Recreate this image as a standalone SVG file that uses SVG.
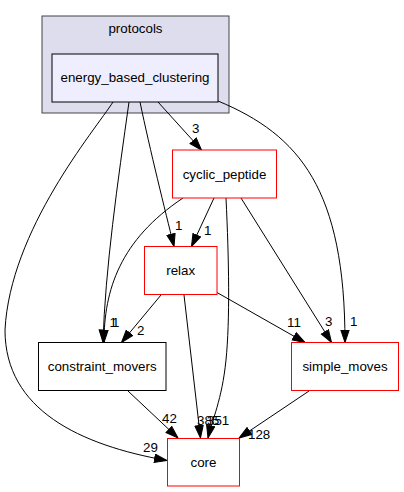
<svg xmlns="http://www.w3.org/2000/svg" width="404" height="492" viewBox="0 0 404 492">
<style>
text{font-family:"Liberation Sans",Arial,Helvetica,sans-serif;font-size:13.33px;fill:#000}
.c{text-anchor:middle}
.e{fill:none;stroke:#000;stroke-width:1;marker-end:url(#ah)}
.red{fill:#fff;stroke:#ff0000;stroke-width:1}
.blk{fill:#fff;stroke:#000;stroke-width:1}
</style>
<defs>
<marker id="ah" markerUnits="userSpaceOnUse" markerWidth="14" markerHeight="11" refX="13" refY="4.7" orient="auto">
<path d="M0.5,0.5 L13,4.7 L0.5,8.9 Z" fill="#000" stroke="#000" stroke-width="1"/>
</marker>
</defs>
<rect width="404" height="492" fill="#fff"/>
<g id="clust_protocols">
<rect x="42" y="16" width="187" height="97" fill="#ddddee" stroke="#444" stroke-width="1"/>
<text class="c" x="135.5" y="32.5">protocols</text>
</g>
<g id="edges">
<path class="e" d="M113,102 C95,130 10,230 5,330 C5,410 80,445 167,460.5"/>
<path class="e" d="M129,102 C118,180 105,270 103,342.5"/>
<path class="e" d="M140,102 C150,150 165,210 174,246.5"/>
<path class="e" d="M158,102 L201.5,150"/>
<path class="e" d="M218,101 C300,135 345,190 345,342.5"/>
<path class="e" d="M214,198 L191.5,246.5"/>
<path class="e" d="M183,198 C120,240 104,290 104,342.5"/>
<path class="e" d="M226,198 C229,260 230,320 226,360 C222,400 212,420 208,438"/>
<path class="e" d="M241,198 L331.5,342.5"/>
<path class="e" d="M161,295 L121.5,342.5"/>
<path class="e" d="M184,295 L200.5,438"/>
<path class="e" d="M217,292.5 L305,342.5"/>
<path class="e" d="M128,391 L178,438"/>
<path class="e" d="M309,391 L239,438"/>
<text x="192" y="133">3</text>
<text x="175" y="229.5">1</text>
<text x="204" y="235">1</text>
<text x="109.5" y="327">1</text>
<text x="112" y="327">1</text>
<text x="137" y="335">2</text>
<text x="287" y="327">11</text>
<text x="325" y="325.5">3</text>
<text x="350" y="325.5">1</text>
<text x="162" y="422.5">42</text>
<text x="197" y="424.5">385</text>
<text x="207" y="424.5">351</text>
<text x="248" y="439">128</text>
<text x="143" y="451.5">29</text>
</g>
<g id="energy_based_clustering">
<rect x="52" y="54" width="166" height="48" fill="#eeeeff" stroke="#000" stroke-width="1"/>
<text class="c" x="135" y="82">energy_based_clustering</text>
</g>
<g id="cyclic_peptide">
<rect class="red" x="172.5" y="150" width="104" height="48"/>
<text class="c" x="224.5" y="178.5">cyclic_peptide</text>
</g>
<g id="relax">
<rect class="red" x="144.5" y="246.5" width="72.5" height="48"/>
<text class="c" x="180.7" y="275">relax</text>
</g>
<g id="constraint_movers">
<rect class="blk" x="38.5" y="342.5" width="127.5" height="48"/>
<text class="c" x="102.2" y="371">constraint_movers</text>
</g>
<g id="simple_moves">
<rect class="red" x="291.5" y="342.5" width="107" height="48"/>
<text class="c" x="345" y="371">simple_moves</text>
</g>
<g id="core">
<rect class="red" x="167.5" y="438.5" width="72" height="47.5"/>
<text class="c" x="203.5" y="466.5">core</text>
</g>
</svg>
